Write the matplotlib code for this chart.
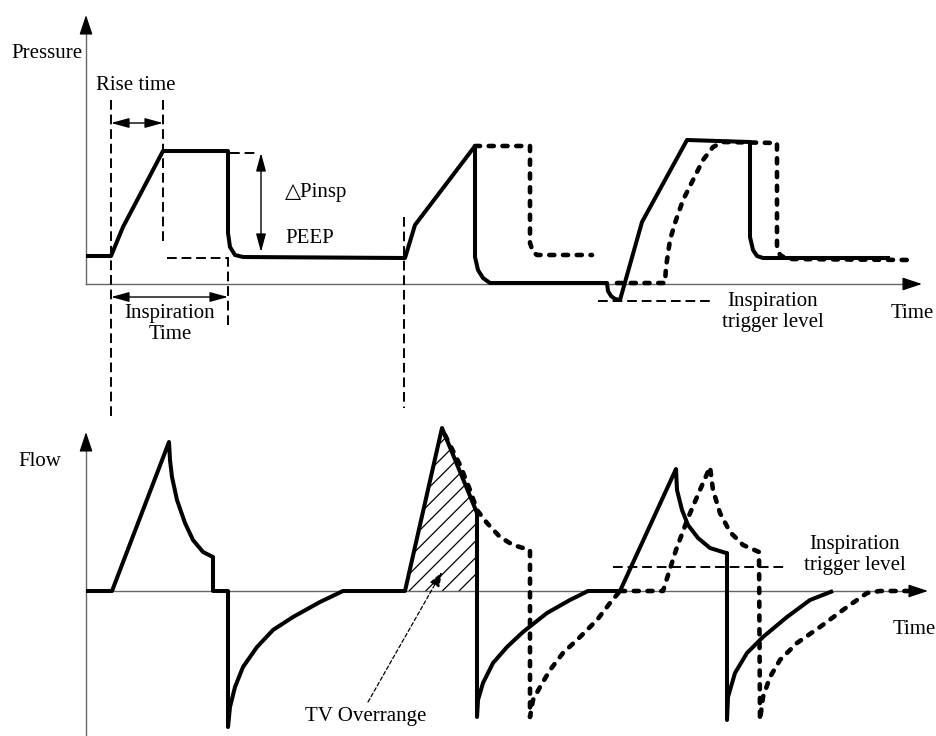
import matplotlib.pyplot as plt
from matplotlib.patches import Polygon

plt.rcParams['font.family'] = ['Liberation Serif', 'DejaVu Serif']
plt.rcParams['hatch.linewidth'] = 0.9

# ---- pressure panel (time, pressure) ----
p_solid_t = [0, 25, 37, 77, 142, 142, 144, 149, 157, 319, 329, 389, 389, 392, 397, 404,
             521, 522, 525, 529, 534, 556, 601, 664, 664, 667, 671, 677, 804]
p_solid = [28, 28, 57, 133, 133, 51, 37, 29, 27, 26, 59, 138, 27, 14, 6, 1,
           1, -7, -12, -15, -16, 62, 144, 142, 47, 34, 28, 26, 26]

p_dot2_t = [389, 444, 444, 447, 451, 506]
p_dot2 = [138, 138, 41, 32, 29, 29]

p_dot3_t = [531, 579, 580, 584, 589, 597, 607, 617, 627, 637, 691, 691, 694, 701, 824]
p_dot3 = [1, 1, 17, 44, 61, 84, 104, 124, 137, 142, 141, 37, 29, 25, 24]

# ---- flow panel (time, flow) ----
f_solid_t = [0, 26, 83, 84, 86, 91, 99, 107, 117, 127, 127, 142,
             142, 144, 149, 157, 171, 187, 207, 234, 257,
             319, 356, 391, 391, 392, 397, 407, 421, 437, 461, 484, 502,
             534, 590, 591, 596, 602, 612, 624, 640, 641,
             641, 642, 649, 661, 677, 701, 724, 747]
f_solid = [0, 0, 149, 131, 114, 91, 68, 51, 39, 34, 0, 0,
           -136, -116, -96, -76, -56, -39, -26, -11, 0,
           0, 163, 78, -126, -109, -92, -72, -56, -41, -22, -9, 0,
           0, 122, 101, 81, 66, 53, 43, 38, 38,
           -129, -106, -82, -62, -46, -26, -9, 0]

f_dot2_t = [359, 374, 384, 391, 401, 414, 427, 444,
            444, 447, 454, 464, 477, 494, 511, 524, 534]
f_dot2 = [156, 126, 101, 81, 68, 54, 46, 41,
          -126, -109, -96, -79, -62, -46, -29, -12, 0]

f_dot3_t = [534, 577, 590, 602, 614, 624, 627, 634, 644, 657, 673,
            674, 677, 684, 694, 711, 734, 761, 781, 794, 827]
f_dot3 = [0, 0, 41, 73, 101, 124, 101, 78, 59, 46, 39,
          -129, -106, -86, -69, -52, -36, -16, -2, 0, 0]

tv_t = [319, 356, 391, 391]
tv_f = [0, 163, 78, 0]

fig = plt.figure(figsize=(9.36, 7.36), dpi=100)
ax_p = fig.add_axes([0, 0, 1, 1])
ax_p.set_xlim(-86, 850)
ax_p.set_ylim(-452, 284)
ax_p.axis('off')
ax_f = fig.add_axes([0, 0, 1, 1])
ax_f.set_xlim(-86, 850)
ax_f.set_ylim(-145, 591)
ax_f.axis('off')
ax_f.patch.set_alpha(0)

thick = dict(color='black', lw=2.9, solid_joinstyle='round', solid_capstyle='butt')
dotted = dict(color='black', lw=3.3, linestyle=(0, (1.1, 1.9)), dash_capstyle='round')
dashed = dict(color='black', lw=1.4, linestyle=(0, (5, 2.5)), clip_on=False)
axis_line = dict(color='#666666', lw=1.0, clip_on=False)
head = dict(arrowstyle='-|>,head_length=0.6,head_width=0.2', lw=1.0, color='black',
            mutation_scale=20, shrinkA=0, shrinkB=0)
dbl = dict(arrowstyle='<|-|>,head_length=0.55,head_width=0.15', lw=1.0, color='black',
           mutation_scale=20, shrinkA=0, shrinkB=0)
txt = dict(fontsize=15, color='black')

# axes of the pressure panel
ax_p.plot([0, 0], [0, 262], **axis_line)
ax_p.plot([0, 829], [0, 0], **axis_line)
ax_p.annotate('', xy=(0, 269), xytext=(0, 255), arrowprops=head)
ax_p.annotate('', xy=(836, 0), xytext=(822, 0), arrowprops=head)
ax_p.text(-4, 231, 'Pressure', ha='right', va='center', **txt)
ax_p.text(826, -29, 'Time', ha='center', va='center', **txt)

# reference dashes
ax_p.plot([25, 25], [184, -134], **dashed)
ax_p.plot([77, 77], [184, 42], **dashed)
ax_p.plot([142, 142], [27, -41], **dashed)
ax_p.plot([318, 318], [67, -124], **dashed)
ax_p.plot([144, 172], [131, 131], **dashed)
ax_p.plot([81, 142], [26, 26], **dashed)
ax_p.plot([512, 627], [-17, -17], **dashed)

ax_p.annotate('', xy=(25, 161), xytext=(77, 161), arrowprops=dbl)
ax_p.annotate('', xy=(175, 131), xytext=(175, 32), arrowprops=dbl)
ax_p.annotate('', xy=(25, -13), xytext=(142, -13), arrowprops=dbl)
ax_p.text(50, 199, 'Rise time', ha='center', va='center', **txt)
ax_p.text(199, 92, '\u25b3Pinsp', ha='left', va='center', **txt)
ax_p.text(199, 46, 'PEEP', ha='left', va='center', **txt)
ax_p.text(84, -40, 'Inspiration\nTime', ha='center', va='center', linespacing=1.1, **txt)
ax_p.text(687, -28, 'Inspiration\ntrigger level', ha='center', va='center', linespacing=1.1, **txt)

ax_p.plot(p_dot2_t, p_dot2, **dotted)
ax_p.plot(p_dot3_t, p_dot3, **dotted)
ax_p.plot(p_solid_t, p_solid, **thick)

# flow panel
ax_f.plot([0, 0], [-160, 152], **axis_line)
ax_f.plot([0, 835], [0, 0], **axis_line)
ax_f.annotate('', xy=(0, 159), xytext=(0, 145), arrowprops=head)
ax_f.annotate('', xy=(842, 0), xytext=(828, 0), arrowprops=head)
ax_f.text(-46, 129, 'Flow', ha='center', va='center', **txt)
ax_f.text(828, -39, 'Time', ha='center', va='center', **txt)
ax_f.text(769, 36, 'Inspiration\ntrigger level', ha='center', va='center', linespacing=1.1, **txt)
ax_f.plot([527, 701], [24, 24], **dashed)

ax_f.add_patch(Polygon(list(zip(tv_t, tv_f)), closed=True, fill=False, hatch='//',
                       lw=0, edgecolor='black'))
ax_f.plot(f_dot2_t, f_dot2, **dotted)
ax_f.plot(f_dot3_t, f_dot3, **dotted)
ax_f.plot(f_solid_t, f_solid, **thick)

ax_f.annotate('', xy=(356, 19), xytext=(282, -111),
              arrowprops=dict(arrowstyle='-|>,head_length=0.5,head_width=0.18', lw=0.9,
                              linestyle=(0, (3, 2)), color='black', mutation_scale=18,
                              shrinkA=0, shrinkB=0))
ax_f.text(280, -126, 'TV Overrange', ha='center', va='center', **txt)

fig.savefig('out.png', dpi=100)
